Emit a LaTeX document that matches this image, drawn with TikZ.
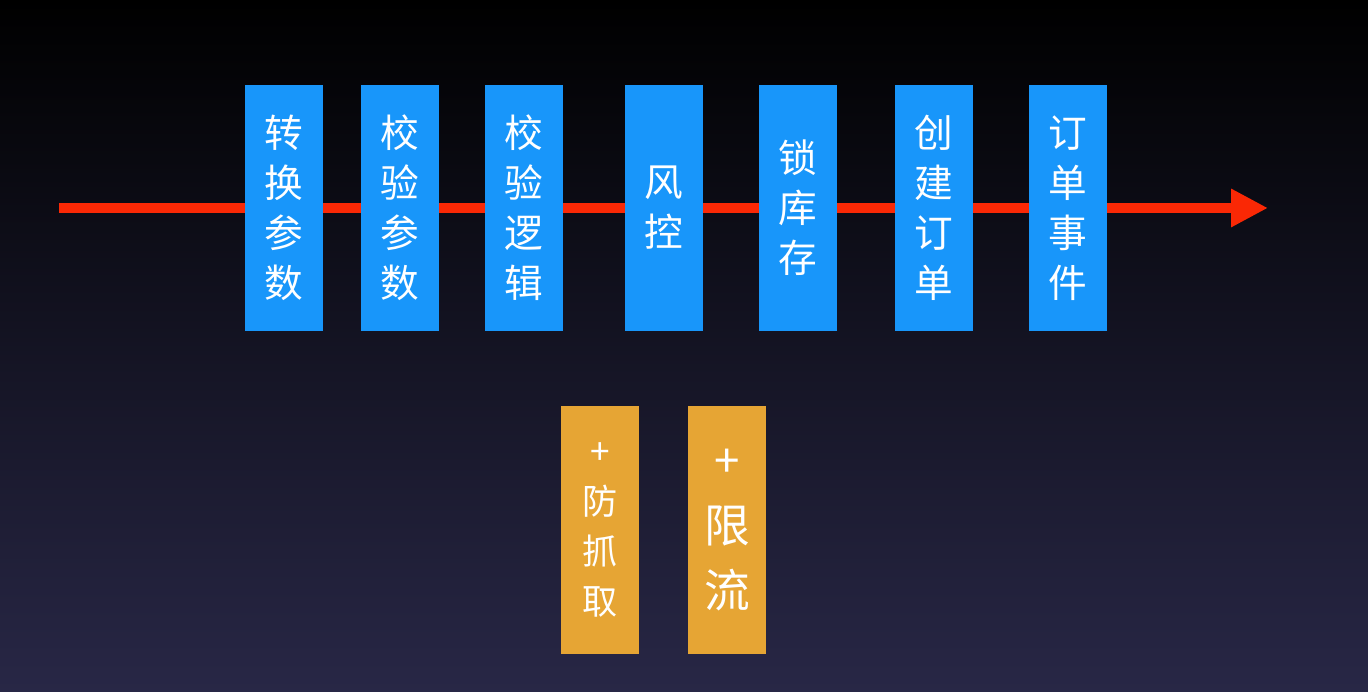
\documentclass[tikz,border=0pt]{standalone}
\usepackage{fontspec}
\newfontfamily\cjk{Noto Sans CJK SC}
\usepackage{tikz}
\usetikzlibrary{arrows.meta}
\definecolor{stageBlue}{RGB}{24,150,250}
\definecolor{stageOrange}{RGB}{230,165,52}
\definecolor{flowRed}{RGB}{250,40,5}
\definecolor{bgTop}{RGB}{0,0,0}
\definecolor{bgMid}{RGB}{8,10,34}
\definecolor{bgBot}{RGB}{40,39,70}

\begin{document}
\begin{tikzpicture}[>=Stealth,
  stage/.style={fill=stageBlue, minimum width=1.56cm, minimum height=4.92cm, inner sep=0pt,
    text=white, align=center, font=\cjk\fontsize{22}{28.45}\selectfont},
  extra/.style={fill=stageOrange, minimum width=1.56cm, minimum height=4.96cm, inner sep=0pt,
    text=white, align=center}]
  % background
  \shade[top color=bgTop, middle color=bgMid, bottom color=bgBot] (0,0) rectangle (27.36,13.84);
  \useasboundingbox (0,0) rectangle (27.36,13.84);
  % main flow
  \coordinate (start) at (1.18,9.68);
  \coordinate (finish) at (25.36,9.68);
  \draw[flowRed, line width=0.2cm, -{Triangle[length=0.74cm, width=0.72cm]}] (start) -- (finish);
  \node[stage] (convert) at (5.68,9.68) {转\\换\\参\\数};
  \node[stage] (checkParam) at (8.00,9.68) {校\\验\\参\\数};
  \node[stage] (checkLogic) at (10.48,9.68) {校\\验\\逻\\辑};
  \node[stage] (risk) at (13.27,9.68) {风\\控};
  \node[stage] (lockStock) at (15.95,9.68) {锁\\库\\存};
  \node[stage] (createOrder) at (18.67,9.68) {创\\建\\订\\单};
  \node[stage] (orderEvent) at (21.35,9.68) {订\\单\\事\\件};
  % additions
  \node[extra, font=\cjk\fontsize{20}{28.45}\selectfont] (antiCrawl) at (12.00,3.24) {+\\防\\抓\\取};
  \node[extra, font=\cjk\fontsize{26}{37}\selectfont] (rateLimit) at (14.54,3.24) {+\\限\\流};
\end{tikzpicture}
\end{document}
